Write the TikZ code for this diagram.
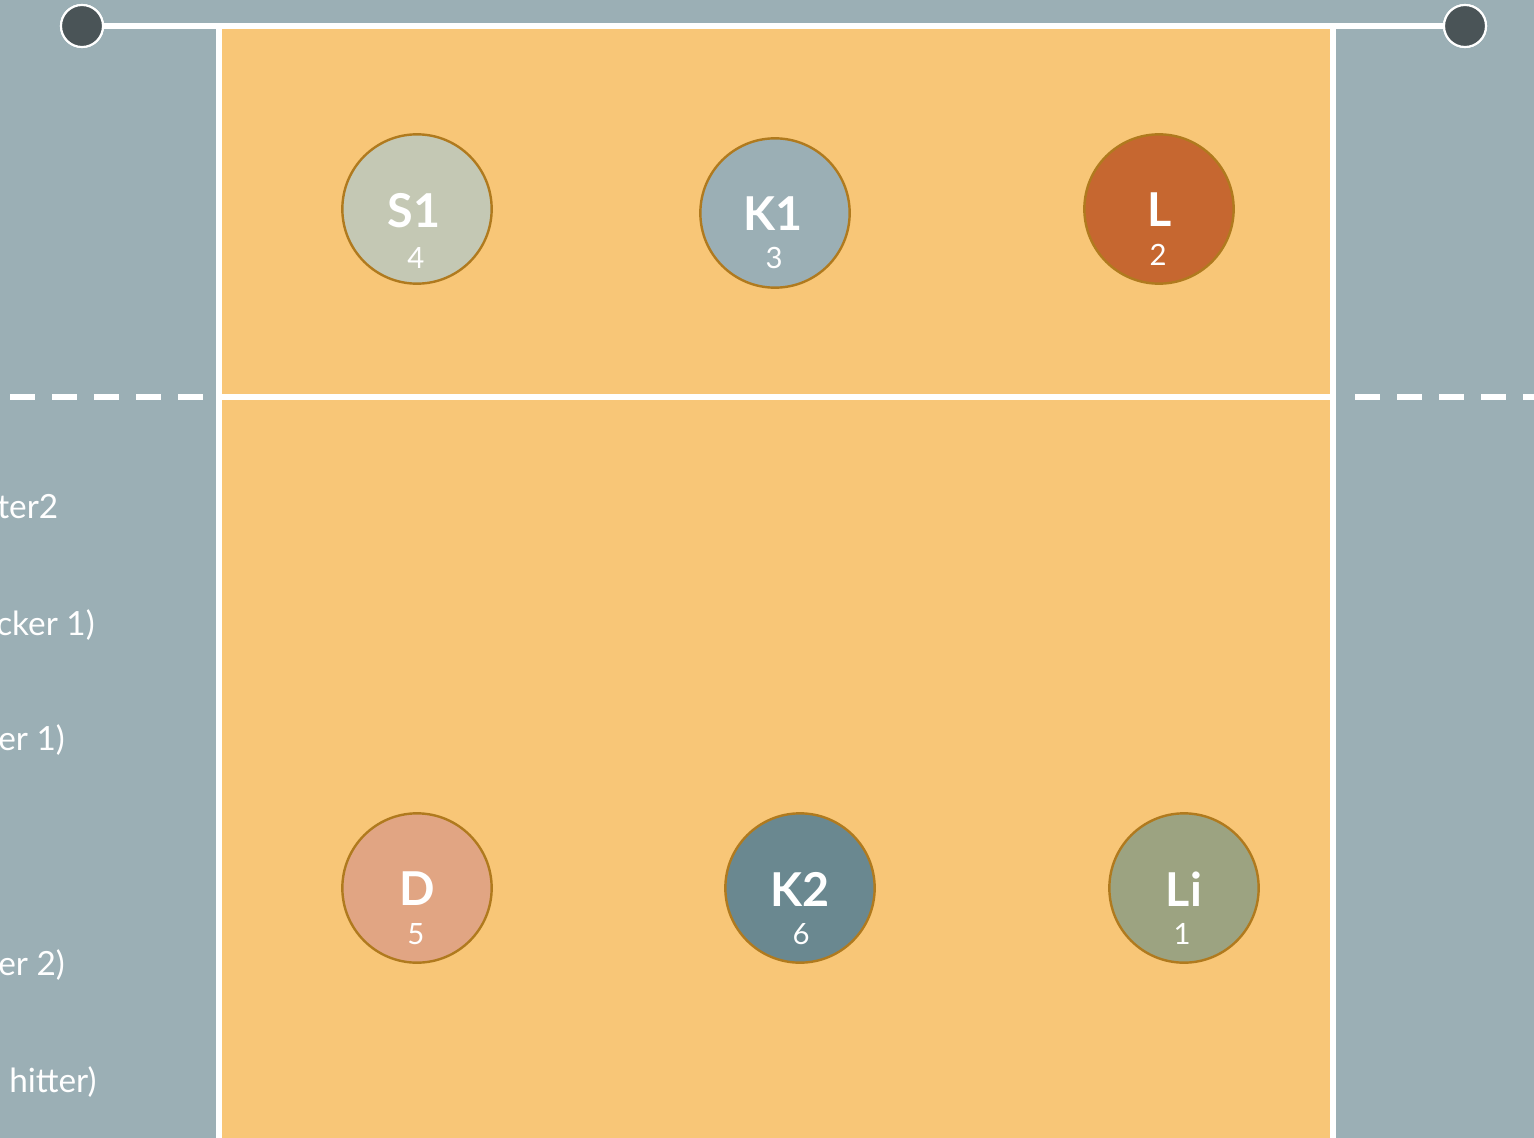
\documentclass[tikz,border=0pt]{standalone}
\usepackage{fontspec}
\setmainfont{Lato}
\definecolor{bggray}{HTML}{9BAFB5}
\definecolor{court}{HTML}{F8C677}
\definecolor{post}{HTML}{4A5457}
\definecolor{ring}{HTML}{B07A1E}
\definecolor{cS}{HTML}{C4C8B4}
\definecolor{cK}{HTML}{9BAFB5}
\definecolor{cL}{HTML}{C66730}
\definecolor{cD}{HTML}{E1A583}
\definecolor{cKK}{HTML}{6A8890}
\definecolor{cLi}{HTML}{9CA381}
\tikzset{
  courtline/.style={draw=white, line width=3.9pt},
  dashline/.style={draw=white, line width=3.9pt, dash pattern=on 18.75pt off 12.75pt},
  postnode/.style={circle, fill=post, draw=white, line width=1.6pt, minimum size=31.5pt, inner sep=0pt},
  player/.style={circle, draw=ring, line width=1.8pt, minimum size=112pt, inner sep=0pt},
  biglbl/.style={text=white, font=\fontsize{35}{40}\selectfont\bfseries, inner sep=0pt},
  numlbl/.style={text=white, font=\fontsize{22}{26}\selectfont, inner sep=0pt},
  sidelbl/.style={text=white, font=\fontsize{25}{29}\selectfont, inner sep=0pt, anchor=west}
}
\begin{document}
\begin{tikzpicture}[x=0.75pt, y=-0.75pt]
\useasboundingbox (0,0) rectangle (1534,1138);
\fill[bggray] (0,0) rectangle (1534,1138);
\fill[court] (219,26) rectangle (1333,1150);
% side lines
\coordinate (tl) at (219,26);
\coordinate (bl) at (219,1150);
\coordinate (tr) at (1333,26);
\coordinate (br) at (1333,1150);
\draw[courtline] (tl) -- (bl);
\draw[courtline] (tr) -- (br);
% center line
\coordinate (ml) at (219,397);
\coordinate (mr) at (1333,397);
\draw[courtline] (ml) -- (mr);
\coordinate (dl0) at (10,397);
\coordinate (dl1) at (219,397);
\coordinate (dr0) at (1355,397);
\coordinate (dr1) at (1545,397);
\draw[dashline] (dl0) -- (dl1);
\draw[dashline] (dr0) -- (dr1);
% net
\node[postnode] (pl) at (82,26) {};
\node[postnode] (pr) at (1465,26) {};
\draw[courtline] (pl.east) -- (pr.west);
\node[postnode] at (82,26) {};
\node[postnode] at (1465,26) {};
% players
\node[player, fill=cS] (s1) at (417,209) {};
\node[biglbl] (s1t) at (414,211) {S1};
\node[numlbl] (s1n) at (416,258) {4};
\node[player, fill=cK] (k1) at (775,213) {};
\node[biglbl] (k1t) at (773,214) {K1};
\node[numlbl] (k1n) at (774,258) {3};
\node[player, fill=cL] (l) at (1159,209) {};
\node[biglbl] (lt) at (1160,210) {L};
\node[numlbl] (ln) at (1158,255) {2};
\node[player, fill=cD] (d) at (417,888) {};
\node[biglbl] (dt) at (417,889) {D};
\node[numlbl] (dn) at (416,934) {5};
\node[player, fill=cKK] (k2) at (800,888) {};
\node[biglbl] (k2t) at (800,889) {K2};
\node[numlbl] (k2n) at (801,934) {6};
\node[player, fill=cLi] (li) at (1184,888) {};
\node[biglbl] (lit) at (1184,889) {Li};
\node[numlbl] (lin) at (1182,934) {1};
% side labels (cut off at left edge)
\node[sidelbl] (t1) at (-3,507) {ter2};
\node[sidelbl] (t2) at (-4,625) {cker 1)};
\node[sidelbl] (t3) at (-2,740) {er 1)};
\node[sidelbl] (t4) at (-2,965) {er 2)};
\node[sidelbl] (t5) at (9,1082) {hitter)};
\end{tikzpicture}
\end{document}
